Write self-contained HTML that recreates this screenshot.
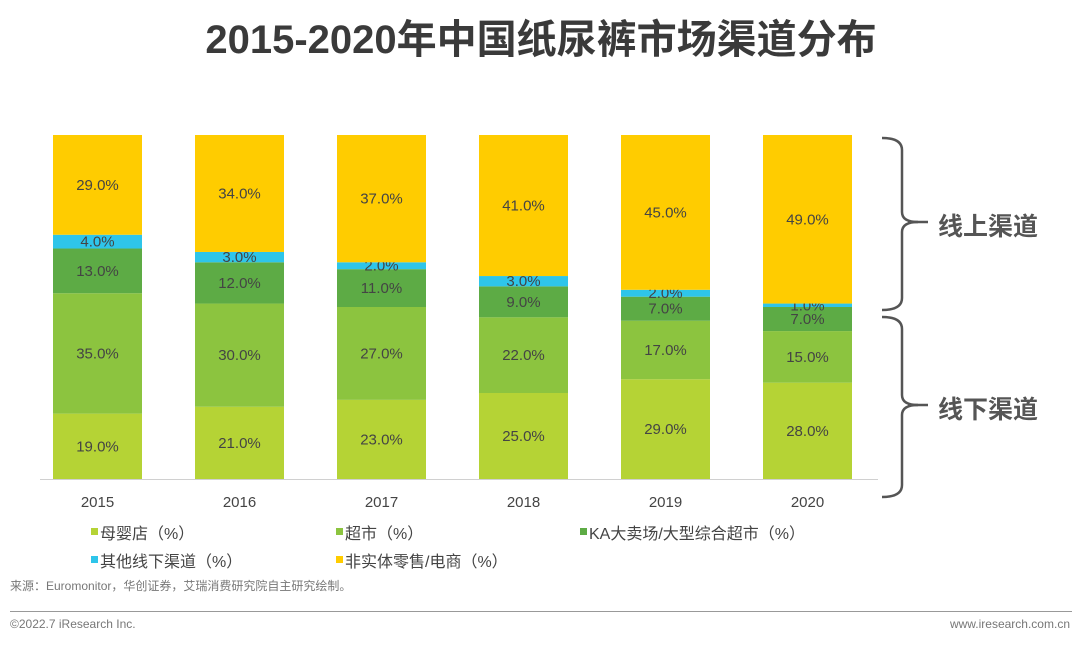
<!DOCTYPE html>
<html><head><meta charset="utf-8">
<style>
body{margin:0;width:1080px;height:646px;background:#fff;overflow:hidden;font-family:"Liberation Sans","Noto Sans CJK SC",sans-serif;}
svg text{font-family:"Liberation Sans","Noto Sans CJK SC",sans-serif;}
</style></head>
<body>
<svg id="c" width="1080" height="646">
<text x="541" y="53" text-anchor="middle" font-size="40" font-weight="bold" fill="#3a3a3a">2015-2020年中国纸尿裤市场渠道分布</text>
<g id="bars"></g>
<line x1="40" y1="479.5" x2="878" y2="479.5" stroke="#d0d0d0"/>
<g id="xt"></g>
<path d="M882 138 Q902 138 902 150 L902 212 Q902 222 918 222 Q902 222 902 232 L902 298 Q902 310 882 310" fill="none" stroke="#555" stroke-width="2.5"/>
<line x1="908" y1="222" x2="928" y2="222" stroke="#555" stroke-width="2.5"/>
<path d="M882 317 Q902 317 902 329 L902 395 Q902 405 918 405 Q902 405 902 415 L902 485 Q902 497 882 497" fill="none" stroke="#555" stroke-width="2.5"/>
<line x1="908" y1="405" x2="928" y2="405" stroke="#555" stroke-width="2.5"/>
<text x="938" y="235" font-size="25" font-weight="bold" fill="#555">线上渠道</text>
<text x="938" y="418" font-size="25" font-weight="bold" fill="#555">线下渠道</text>
<g id="legend"></g>
<text x="10" y="590" font-size="12" fill="#777">来源：Euromonitor，华创证券，艾瑞消费研究院自主研究绘制。</text>
<line x1="10" y1="611.5" x2="1072" y2="611.5" stroke="#999"/>
<text x="10" y="628" font-size="12" fill="#777">©2022.7 iResearch Inc.</text>
<text x="1070" y="628" font-size="12" fill="#777" text-anchor="end">www.iresearch.com.cn</text>
</svg>
<script>
const years=["2015","2016","2017","2018","2019","2020"];
const muying=[19,21,23,25,29,28];
const chaoshi=[35,30,27,22,17,15];
const ka=[13,12,11,9,7,7];
const other=[4,3,2,3,2,1];
const online=[29,34,37,41,45,49];
const seriesNames=["母婴店（%）","超市（%）","KA大卖场/大型综合超市（%）","其他线下渠道（%）","非实体零售/电商（%）"];
const colors=["#b5d335","#8cc43f","#5dab45","#2ec5ea","#ffcc00"];
const series=[muying,chaoshi,ka,other,online];
const NS="http://www.w3.org/2000/svg";
const y0=479,H=344,bw=89;
const xPos=i=>53+i*142;
const yS=v=>v/100*H;
function mk(t,a,p){const e=document.createElementNS(NS,t);for(const k in a)e.setAttribute(k,a[k]);p.appendChild(e);return e;}
const gb=document.getElementById('bars');
years.forEach((yr,i)=>{
  let cum=0;
  series.forEach((s,k)=>{
    const h=yS(s[i]);const top=y0-yS(cum)-h;
    const r=mk('rect',{x:xPos(i),y:top,width:bw,height:h,fill:colors[k]},gb);
    
    
    const t=mk('text',{x:xPos(i)+bw/2,y:top+h/2+5,'text-anchor':'middle','font-size':15,fill:'#444'},gb);
    t.textContent=s[i].toFixed(1)+'%';
    
    
    cum+=s[i];
  });
  const xt=mk('text',{x:xPos(i)+bw/2,y:507,'text-anchor':'middle','font-size':15,fill:'#444'},document.getElementById('xt'));
  xt.textContent=yr;
  
  
});
const lg=document.getElementById('legend');
const lpos=[[91,538],[336,538],[580,538],[91,566],[336,566]];
seriesNames.forEach((n,k)=>{
  const g=mk('g',{},lg);
  
  
  mk('rect',{x:lpos[k][0],y:lpos[k][1]-10,width:7,height:7,fill:colors[k]},g);
  const t=mk('text',{x:lpos[k][0]+9,y:lpos[k][1]+1,'font-size':16,fill:'#444'},g);
  t.textContent=n;
});
</script>
</body></html>
